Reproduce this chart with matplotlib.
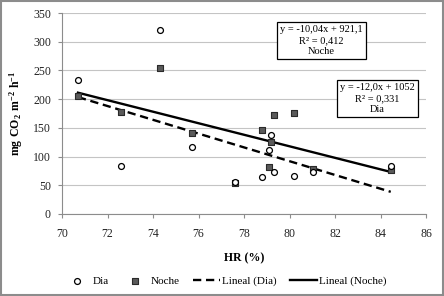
import matplotlib
matplotlib.use("Agg")
import matplotlib.pyplot as plt
import numpy as np
from matplotlib.patches import Rectangle

plt.rcParams['font.family'] = ['Liberation Serif', 'DejaVu Serif']
plt.rcParams['mathtext.fontset'] = 'custom'
plt.rcParams['mathtext.rm'] = 'Liberation Serif'
plt.rcParams['mathtext.bf'] = 'Liberation Serif:bold'

# Data
dia_x = [70.7, 72.6, 74.3, 75.7, 77.6, 78.8, 79.1, 79.2, 79.3, 80.2, 81.05, 84.45]
dia_y = [233, 83, 321, 117, 56, 64, 111, 138, 73, 67, 73, 84]
noche_x = [70.7, 72.6, 74.3, 75.7, 77.6, 78.8, 79.1, 79.2, 79.3, 80.2, 81.05, 84.45]
noche_y = [206, 177, 254, 141, 54, 146, 81, 125, 172, 176, 78, 77]

# Trend line coefficients (from labels)
dia_slope, dia_icpt = -12.0, 1052
noche_slope, noche_icpt = -10.04, 921.1
trend_range = [70.7, 84.45]

x_ticks = [70, 72, 74, 76, 78, 80, 82, 84, 86]
y_ticks = [0, 50, 100, 150, 200, 250, 300, 350]

fig = plt.figure(figsize=(4.44, 2.96), dpi=100)
ax = fig.add_axes([62/444, 1-214/296, (426-62)/444, (214-13)/296])

ax.set_xlim(70, 86)
ax.set_ylim(0, 350)
ax.set_xticks(x_ticks)
ax.set_yticks(y_ticks)
ax.grid(axis='y', color='#c4c4c4', linewidth=0.8)
ax.set_axisbelow(True)
for s in ['top', 'right']:
    ax.spines[s].set_visible(False)
for s in ['left', 'bottom']:
    ax.spines[s].set_color('#8c8c8c')
    ax.spines[s].set_linewidth(0.8)
ax.tick_params(axis='both', direction='out', length=3, width=0.8, color='#8c8c8c',
               labelsize=8.5, labelcolor='#222222', pad=5)
ax.tick_params(axis='x', pad=7)

xr = np.array(trend_range)
l1, = ax.plot(xr, dia_slope*xr + dia_icpt, color='black', linestyle=(0, (3.5, 2)), linewidth=1.7,
              label='Lineal (Dia)', zorder=3)
l2, = ax.plot(xr, noche_slope*xr + noche_icpt, color='black', linestyle='-', linewidth=1.7,
              label='Lineal (Noche)', zorder=3)
s2 = ax.scatter(noche_x, noche_y, marker='s', s=18, facecolor='#5a5a5a', edgecolor='#2a2a2a',
                linewidth=0.8, label='Noche', zorder=4)
s1 = ax.scatter(dia_x, dia_y, marker='o', s=18, facecolor='white', edgecolor='black',
                linewidth=0.9, label='Dia', zorder=5)

ax.set_xlabel('HR (%)', fontsize=8.5, fontweight='bold', labelpad=9)
ax.set_ylabel(r'$\mathbf{mg\ CO_2\ m^{-2}\ h^{-1}}$', fontsize=8.5, labelpad=6)

bbox = dict(boxstyle='square,pad=0.3', facecolor='white', edgecolor='black', linewidth=0.9)
ax.text(81.4, 302, 'y = -10,04x + 921,1\nR² = 0,412\nNoche', fontsize=7.5, ha='center', va='center',
        linespacing=1.25, bbox=bbox, zorder=6)
ax.text(83.85, 201, 'y = -12,0x + 1052\nR² = 0,331\nDia', fontsize=7.5, ha='center', va='center',
        linespacing=1.25, bbox=bbox, zorder=6)

leg = fig.legend(handles=[s1, s2, l1, l2], labels=['Dia', 'Noche', 'Lineal (Dia)', 'Lineal (Noche)'],
                 loc='center', bbox_to_anchor=(225/444, 1-281/296), ncol=4, frameon=False,
                 fontsize=8, handlelength=2.4, handletextpad=0.2, columnspacing=1.2)

fig.patches.append(Rectangle((0.002, 0.003), 0.996, 0.994, transform=fig.transFigure,
                             fill=False, edgecolor='#8c8c8c', linewidth=1.5))

fig.savefig('out.png', dpi=100)
